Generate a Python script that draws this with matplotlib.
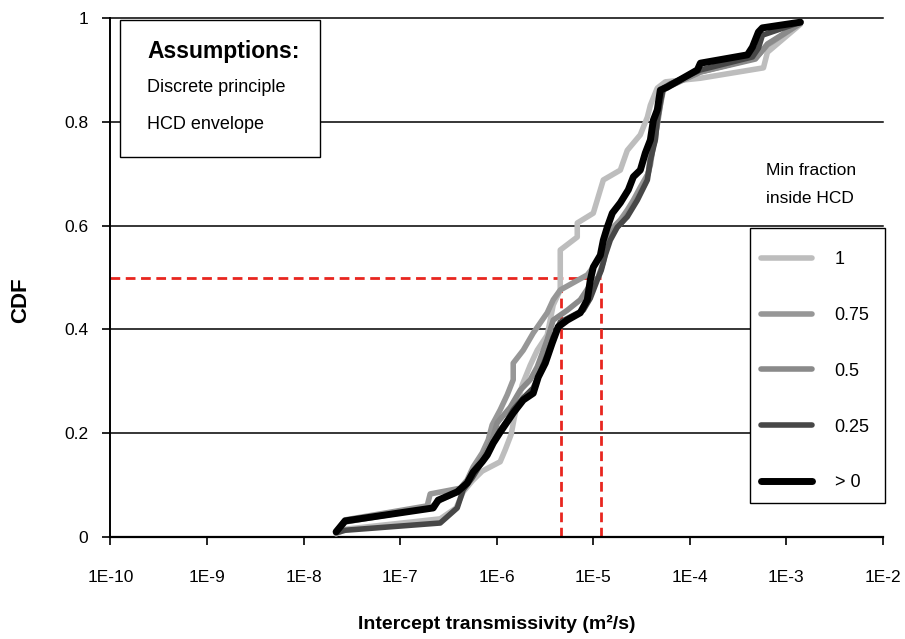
import numpy as np
import matplotlib.pyplot as plt
from matplotlib.patches import Rectangle
from matplotlib.ticker import FixedLocator, NullLocator

plt.rcParams['font.family'] = ['Liberation Sans', 'DejaVu Sans']

# log10 of intercept transmissivity (m2/s) and CDF, one pair per curve
logT_1 = [-7.663, -7.570, -6.585, -6.420, -6.347, -6.254, -6.150, -5.964, -5.912, -5.850,
          -5.819, -5.777, -5.736, -5.653, -5.580, -5.477, -5.415, -5.342, -5.342, -5.166,
          -5.166, -5.000, -4.927, -4.896, -4.720, -4.648, -4.513, -4.440, -4.409, -4.337,
          -4.254, -3.891, -3.238, -3.197, -2.855]
cdf_1 = [0.006, 0.015, 0.035, 0.056, 0.087, 0.108, 0.127, 0.145, 0.168, 0.198,
         0.229, 0.264, 0.293, 0.331, 0.360, 0.389, 0.447, 0.476, 0.553, 0.578,
         0.605, 0.624, 0.669, 0.688, 0.707, 0.745, 0.775, 0.809, 0.832, 0.865,
         0.877, 0.884, 0.904, 0.934, 0.988]

logT_075 = [-7.663, -7.570, -6.720, -6.689, -6.378, -6.306, -6.244, -6.150, -6.088, -6.047,
            -5.964, -5.891, -5.829, -5.829, -5.725, -5.622, -5.477, -5.415, -5.342, -5.062,
            -5.000, -4.927, -4.896, -4.855, -4.803, -4.720, -4.648, -4.585, -4.513, -4.430,
            -4.409, -4.358, -4.337, -4.306, -4.285, -4.202, -3.891, -3.321, -3.269, -3.197,
            -2.855]
cdf_075 = [0.010, 0.033, 0.060, 0.083, 0.094, 0.110, 0.135, 0.162, 0.187, 0.216,
           0.245, 0.274, 0.303, 0.335, 0.360, 0.393, 0.432, 0.457, 0.476, 0.505,
           0.520, 0.538, 0.557, 0.576, 0.595, 0.611, 0.630, 0.649, 0.674, 0.701,
           0.736, 0.765, 0.803, 0.832, 0.861, 0.871, 0.896, 0.923, 0.933, 0.948,
           0.990]

logT_05 = [-7.663, -7.570, -6.689, -6.585, -6.409, -6.306, -6.223, -6.119, -6.047, -5.995,
           -5.860, -5.756, -5.653, -5.580, -5.477, -5.415, -5.269, -5.135, -5.031, -4.948,
           -4.896, -4.855, -4.803, -4.699, -4.617, -4.544, -4.461, -4.409, -4.378, -4.337,
           -4.306, -4.275, -4.202, -3.891, -3.321, -3.269, -3.197, -2.855]
cdf_05 = [0.010, 0.029, 0.056, 0.071, 0.087, 0.106, 0.133, 0.162, 0.187, 0.220,
          0.250, 0.283, 0.303, 0.328, 0.380, 0.418, 0.437, 0.457, 0.486, 0.501,
          0.530, 0.563, 0.588, 0.607, 0.630, 0.653, 0.682, 0.717, 0.755, 0.794,
          0.832, 0.861, 0.869, 0.896, 0.921, 0.933, 0.950, 0.990]

logT_025 = [-7.663, -7.570, -6.585, -6.409, -6.347, -6.254, -6.171, -6.098, -6.036, -5.964,
            -5.891, -5.829, -5.725, -5.622, -5.549, -5.477, -5.415, -5.342, -5.238, -5.104,
            -5.031, -4.959, -4.917, -4.876, -4.824, -4.751, -4.648, -4.544, -4.440, -4.409,
            -4.358, -4.337, -4.306, -4.275, -4.202, -3.891, -3.352, -3.290, -3.249, -2.855]
cdf_025 = [0.008, 0.013, 0.027, 0.056, 0.091, 0.114, 0.139, 0.162, 0.183, 0.206,
           0.225, 0.245, 0.268, 0.287, 0.318, 0.351, 0.385, 0.414, 0.424, 0.437,
           0.460, 0.495, 0.514, 0.543, 0.572, 0.597, 0.617, 0.649, 0.688, 0.726,
           0.765, 0.803, 0.838, 0.865, 0.873, 0.900, 0.925, 0.942, 0.967, 0.992]

logT_0 = [-7.663, -7.570, -6.658, -6.606, -6.409, -6.306, -6.244, -6.150, -6.098, -6.036,
          -5.964, -5.891, -5.829, -5.725, -5.622, -5.570, -5.497, -5.425, -5.363, -5.269,
          -5.135, -5.062, -5.031, -5.000, -4.927, -4.896, -4.855, -4.803, -4.720, -4.637,
          -4.585, -4.513, -4.461, -4.409, -4.378, -4.337, -4.306, -4.233, -3.922, -3.891,
          -3.404, -3.352, -3.290, -3.249, -2.855]
cdf_0 = [0.010, 0.031, 0.056, 0.071, 0.087, 0.104, 0.125, 0.145, 0.158, 0.181,
         0.202, 0.222, 0.239, 0.264, 0.277, 0.308, 0.335, 0.374, 0.405, 0.418,
         0.432, 0.457, 0.495, 0.520, 0.543, 0.572, 0.597, 0.624, 0.644, 0.669,
         0.694, 0.707, 0.740, 0.765, 0.803, 0.823, 0.861, 0.867, 0.900, 0.913,
         0.929, 0.944, 0.973, 0.981, 0.992]

labels = ['1', '0.75', '0.5', '0.25', '> 0']
colors = ['#bdbdbd', '#979797', '#8a8a8a', '#474747', '#000000']
widths = [4.0, 4.0, 4.0, 4.0, 5.0]
curves = [(logT_1, cdf_1), (logT_075, cdf_075), (logT_05, cdf_05),
          (logT_025, cdf_025), (logT_0, cdf_0)]

median_lo = 4.6e-6
median_hi = 1.2e-5

xticks = [1e-10, 1e-9, 1e-8, 1e-7, 1e-6, 1e-5, 1e-4, 1e-3, 1e-2]
xticklabels = ['1E-10', '1E-9', '1E-8', '1E-7', '1E-6', '1E-5', '1E-4', '1E-3', '1E-2']
yticks = [0, 0.2, 0.4, 0.6, 0.8, 1.0]
yticklabels = ['0', '0.2', '0.4', '0.6', '0.8', '1']

fig = plt.figure(figsize=(9.05, 6.39), dpi=100)
ax = fig.add_axes([0.122, 0.1596, 0.8537, 0.8122])

ax.set_xscale('log')
ax.set_xlim(1e-10, 1e-2)
ax.set_ylim(0, 1)

for y in yticks[1:]:
    ax.axhline(y, color='black', lw=1.1, zorder=1, clip_on=False)

# red dashed median guides
red = '#e8261f'
dash = (0, (3.5, 2))
ax.plot([1e-10, median_hi], [0.5, 0.5], color=red, lw=2, ls=dash, zorder=2)
ax.plot([median_lo, median_lo], [0, 0.5], color=red, lw=2, ls=dash, zorder=2)
ax.plot([median_hi, median_hi], [0, 0.5], color=red, lw=2, ls=dash, zorder=2)

handles = []
for (lt, c), lab, col, w in zip(curves, labels, colors, widths):
    h, = ax.plot(10.0 ** np.array(lt), c, color=col, lw=w, label=lab,
                 solid_joinstyle='round', solid_capstyle='round', zorder=3)
    handles.append(h)

ax.xaxis.set_major_locator(FixedLocator(xticks))
ax.xaxis.set_minor_locator(NullLocator())
ax.set_xticklabels(xticklabels)
ax.set_yticks(yticks)
ax.set_yticklabels(yticklabels)
ax.tick_params(axis='x', direction='out', length=6, width=1.2, pad=18, labelsize=12.5)
ax.tick_params(axis='y', direction='out', length=6, width=1.2, pad=10, labelsize=12.5)

for s in ['top', 'right']:
    ax.spines[s].set_visible(False)
ax.spines['bottom'].set_linewidth(1.6)
ax.spines['left'].set_linewidth(1.4)

ax.set_xlabel('Intercept transmissivity (m²/s)', fontsize=14, fontweight='bold', labelpad=21)
ax.set_ylabel('CDF', fontsize=16, fontweight='bold')
ax.yaxis.set_label_coords(-0.103, 0.457)

# assumptions box
fig.add_artist(Rectangle((0.1326, 0.7543), 0.221, 0.2144, transform=fig.transFigure,
                         facecolor='white', edgecolor='black', lw=1.0, zorder=5))
fig.text(0.1624, 0.9200, 'Assumptions:', fontsize=16.5, fontweight='bold', va='center', zorder=6)
fig.text(0.1624, 0.8623, 'Discrete principle', fontsize=13, va='center', zorder=6)
fig.text(0.1624, 0.8044, 'HCD envelope', fontsize=13, va='center', zorder=6)

fig.text(0.8464, 0.733, 'Min fraction', fontsize=12.5, va='center')
fig.text(0.8464, 0.689, 'inside HCD', fontsize=12.5, va='center')

# legend: frame drawn separately so the padding can differ left/top
fig.add_artist(Rectangle((0.8287, 0.2128), 0.1492, 0.4304, transform=fig.transFigure,
                         facecolor='white', edgecolor='black', lw=1.0, zorder=4))
leg = fig.legend(handles=handles, labels=labels, loc='upper left',
                 bbox_to_anchor=(0.841, 0.6070), fontsize=13, frameon=False,
                 handlelength=2.8, handletextpad=1.27, labelspacing=2.15,
                 borderpad=0, borderaxespad=0)
leg.set_zorder(6)
for ln in leg.get_lines():
    ln.set_solid_capstyle('round')

fig.savefig('out.png', dpi=100)
